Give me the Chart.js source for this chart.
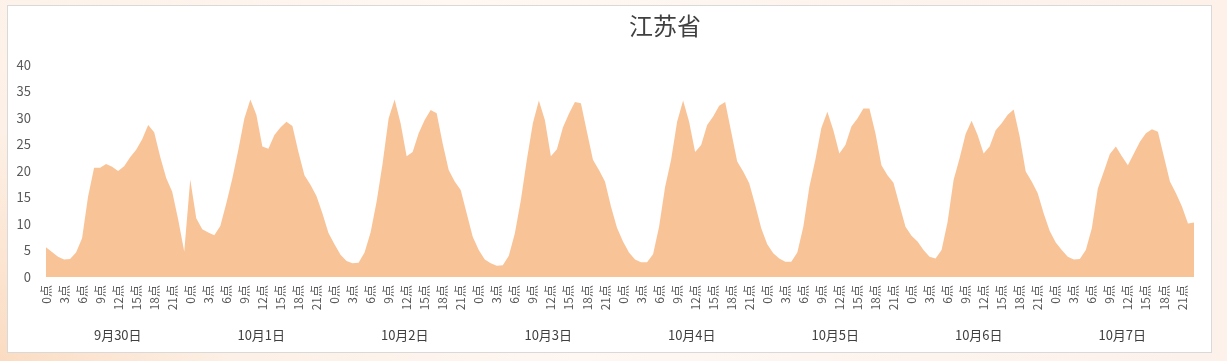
<!DOCTYPE html>
<html>
<head>
<meta charset="utf-8">
<script src="https://cdn.jsdelivr.net/npm/chart.js@4"></script>
<style>
  html, body { margin: 0; padding: 0; }
  body {
    width: 1227px; height: 361px; overflow: hidden;
    background: radial-gradient(circle at 0% 100%, #fbdcc2 0%, #fdf0e6 18%, #fef7f2 45%, #fdf1ea 100%);
  }
  #box {
    position: absolute; left: 7px; top: 5px;
    width: 1205px; height: 348px; box-sizing: border-box;
    border: 1px solid #d9d9d9; background: #fff;
  }
</style>
</head>
<body>
<div id="box"><canvas id="mychart"></canvas></div>
<script>
// tick labels
const days = ["9月30日", "10月1日", "10月2日", "10月3日", "10月4日", "10月5日", "10月6日", "10月7日"];
const hours = ["0点","1点","2点","3点","4点","5点","6点","7点","8点","9点","10点","11点",
               "12点","13点","14点","15点","16点","17点","18点","19点","20点","21点","22点","23点"];

// hourly values per day
const sep30 = [5.6, 4.7, 3.8, 3.3, 3.4, 4.6, 7.3, 15.2, 20.6, 20.6, 21.3, 20.8, 20.0, 20.9, 22.6, 24.0, 26.0, 28.7, 27.3, 22.7, 18.7, 16.1, 10.8, 4.8];
const oct1  = [18.4, 11.1, 9.0, 8.4, 7.9, 9.6, 13.9, 18.6, 24.0, 29.9, 33.5, 30.6, 24.6, 24.2, 26.8, 28.2, 29.3, 28.5, 23.6, 19.2, 17.4, 15.3, 12.0, 8.3];
const oct2  = [6.2, 4.2, 3.0, 2.6, 2.7, 4.6, 8.4, 14.2, 21.4, 29.9, 33.5, 29.0, 22.8, 23.6, 27.1, 29.6, 31.5, 30.9, 25.2, 20.2, 18.0, 16.4, 12.0, 7.6];
const oct3  = [5.1, 3.3, 2.6, 2.1, 2.2, 4.0, 8.2, 14.5, 22.1, 29.0, 33.3, 29.6, 22.8, 24.1, 28.2, 30.8, 33.0, 32.8, 27.4, 22.1, 20.2, 18.0, 13.3, 9.3];
const oct4  = [6.7, 4.6, 3.3, 2.8, 2.8, 4.3, 9.5, 17.0, 22.1, 29.3, 33.3, 29.3, 23.6, 24.9, 28.7, 30.3, 32.3, 33.0, 27.4, 21.8, 19.9, 17.7, 13.6, 9.2];
const oct5  = [6.2, 4.5, 3.5, 2.9, 2.9, 4.6, 9.5, 17.0, 22.1, 28.1, 31.2, 27.7, 23.3, 24.9, 28.4, 29.9, 31.8, 31.8, 27.1, 21.1, 19.2, 17.8, 13.6, 9.5];
const oct6  = [7.8, 6.7, 5.1, 3.8, 3.5, 5.1, 10.4, 18.3, 22.4, 27.0, 29.5, 26.8, 23.3, 24.6, 27.7, 29.0, 30.6, 31.6, 26.5, 19.9, 18.0, 15.8, 12.0, 8.7];
const oct7  = [6.5, 5.1, 3.8, 3.3, 3.4, 5.1, 9.2, 16.7, 19.9, 23.2, 24.6, 22.8, 21.1, 23.3, 25.5, 27.1, 27.9, 27.4, 22.7, 18.0, 15.8, 13.3, 10.1, 10.3];

const labels = [];
days.forEach(function () { hours.forEach(function (h) { labels.push(h); }); });
const values = [].concat(sep30, oct1, oct2, oct3, oct4, oct5, oct6, oct7);

const FONT = "'Noto Sans CJK SC', 'Noto Sans', sans-serif";

// title sits a bit right of centre in the original
const titlePlugin = {
  id: 'offsetTitle',
  afterDraw: function (chart) {
    const c = chart.ctx;
    c.save();
    c.font = "24px " + FONT;
    c.fillStyle = '#404040';
    c.textAlign = 'center';
    c.textBaseline = 'middle';
    c.fillText('江苏省', 657, 20);
    c.restore();
  }
};

var ctx = document.getElementById("mychart").getContext("2d");
myChart = new Chart(ctx, {
  type: 'line',
  data: {
    labels: labels,
    datasets: [{
      data: values,
      fill: 'origin',
      backgroundColor: '#f9c398',
      borderWidth: 0,
      pointRadius: 0,
      tension: 0
    }]
  },
  options: {
    responsive: true,
    maintainAspectRatio: false,
    animation: false,
    layout: { padding: { top: 59, right: 17, bottom: 7, left: 0 } },
    plugins: {
      legend: { display: false },
      tooltip: { enabled: false }
    },
    scales: {
      x: {
        type: 'category',
        offset: false,
        grid: { display: false, drawTicks: false },
        border: { display: false },
        ticks: {
          autoSkip: false,
          maxRotation: 90,
          minRotation: 90,
          padding: 8,
          color: '#595959',
          font: { family: FONT, size: 12 },
          callback: function (val, index) {
            return index % 3 === 0 ? this.getLabelForValue(val) : null;
          }
        },
        afterFit: function (scale) { scale.height = 48; }
      },
      x2: {
        type: 'category',
        position: 'bottom',
        weight: 1,
        labels: days,
        offset: true,
        grid: { display: false, drawTicks: false },
        border: { display: false },
        ticks: {
          padding: 2,
          color: '#404040',
          font: { family: FONT, size: 13 }
        },
        afterFit: function (scale) { scale.height = 20; }
      },
      y: {
        min: 0,
        max: 40,
        grid: { display: false, drawTicks: false },
        border: { display: false },
        ticks: {
          stepSize: 5,
          padding: 15,
          color: '#595959',
          font: { family: FONT, size: 13 }
        },
        afterFit: function (scale) { scale.width = 38; }
      }
    }
  },
  plugins: [titlePlugin]
});
</script>
</body>
</html>
